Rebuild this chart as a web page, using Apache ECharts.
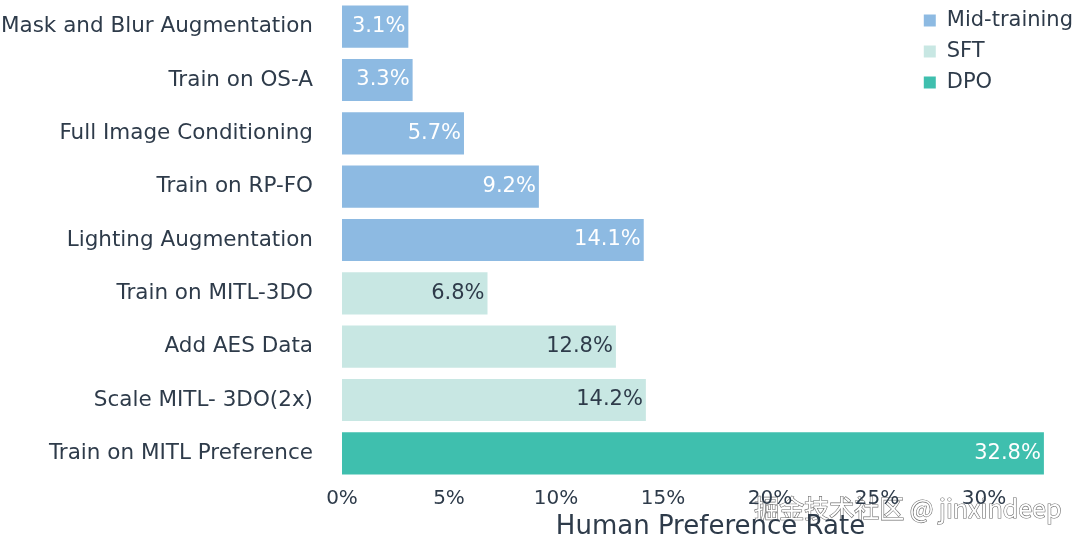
<!DOCTYPE html>
<html lang="en">
<head>
    <meta charset="UTF-8">
    <title>Human Preference Rate</title>
    <script src="https://cdn.jsdelivr.net/npm/echarts@6/dist/echarts.min.js"></script>
    <style>
        html, body { margin: 0; padding: 0; background: #fff; }
        #chart { width: 1080px; height: 540px; }
    </style>
</head>
<body>
    <div id="chart"></div>
<script>
    // categories, top to bottom
    var categories = ['Mask and Blur Augmentation', 'Train on OS-A', 'Full Image Conditioning',
        'Train on RP-FO', 'Lighting Augmentation', 'Train on MITL-3DO', 'Add AES Data',
        'Scale MITL- 3DO(2x)', 'Train on MITL Preference'];
    var midTraining = [3.1, 3.3, 5.7, 9.2, 14.1, null, null, null, null];
    var sft = [null, null, null, null, null, 6.8, 12.8, 14.2, null];
    var dpo = [null, null, null, null, null, null, null, null, 32.8];
    var xTicks = [0, 5, 10, 15, 20, 25, 30];

    var textColor = '#2e3b4a';
    var font = 'DejaVu Sans';

    function barSeries(name, data, color, labelColor) {
        return {
            name: name,
            type: 'bar',
            stack: 'all',
            data: data,
            barCategoryGap: '21%',
            itemStyle: { color: color },
            label: {
                show: true,
                position: 'insideRight',
                distance: 3,
                color: labelColor,
                fontFamily: font,
                fontSize: 21,
                formatter: function (p) { return p.value.toFixed(1) + '%'; }
            }
        };
    }

    var chart = echarts.init(document.getElementById('chart'));
    chart.setOption({
        animation: false,
        textStyle: { fontFamily: font },
        grid: { left: 342, right: 1, top: 0, bottom: 60, outerBoundsMode: 'none' },
        legend: {
            orient: 'vertical',
            right: 2,
            top: 5,
            itemWidth: 12,
            itemHeight: 12,
            itemGap: 10,
            icon: 'rect',
            textStyle: { color: textColor, fontSize: 21, fontFamily: font, padding: [0, 0, 0, 6] },
            data: ['Mid-training', 'SFT', 'DPO']
        },
        xAxis: {
            type: 'value',
            min: 0,
            max: 34.44,
            interval: 5,
            name: 'Human Preference Rate',
            nameLocation: 'middle',
            nameGap: 33,
            nameTextStyle: { color: textColor, fontSize: 26, fontFamily: font },
            axisLine: { show: false },
            axisTick: { show: false },
            splitLine: { show: false },
            axisLabel: {
                color: textColor,
                fontSize: 20,
                margin: 9,
                customValues: xTicks,
                formatter: function (v) { return v + '%'; }
            }
        },
        yAxis: {
            type: 'category',
            inverse: true,
            data: categories,
            axisLine: { show: false },
            axisTick: { show: false },
            axisLabel: { color: textColor, fontSize: 21.5, margin: 29, fontFamily: font }
        },
        series: [
            barSeries('Mid-training', midTraining, '#8dbae2', '#ffffff'),
            barSeries('SFT', sft, '#c8e7e3', textColor),
            barSeries('DPO', dpo, '#3fbfae', '#ffffff')
        ],
        graphic: [{
            type: 'text',
            right: 18,
            top: 495,
            style: {
                text: '掘金技术社区 @ jinxindeep',
                fontSize: 25,
                fontFamily: 'Noto Sans CJK SC',
                fill: '#ffffff',
                stroke: '#6b6b6b',
                lineWidth: 1.2
            }
        }]
    });
</script>
</body>
</html>
